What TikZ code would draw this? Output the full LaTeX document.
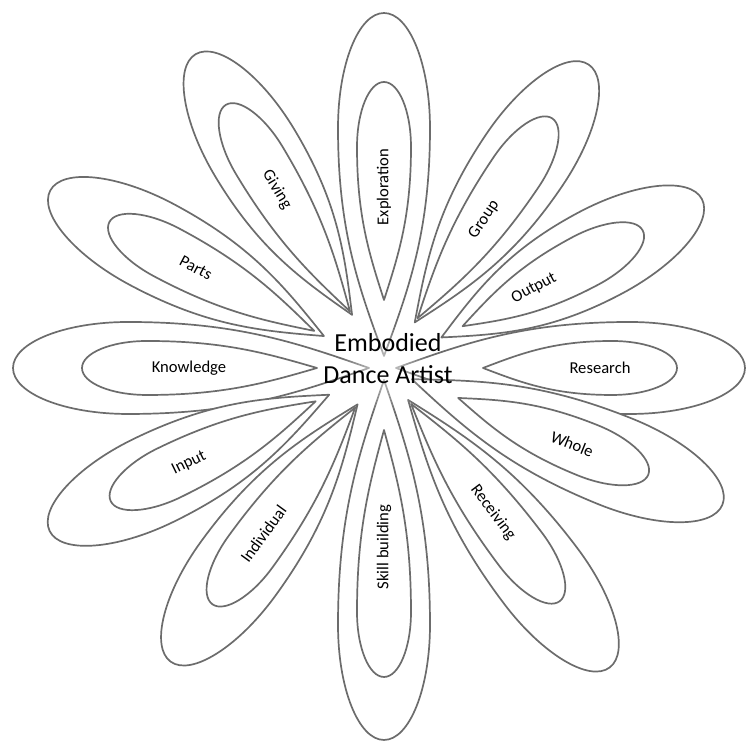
\documentclass[tikz,border=0pt]{standalone}
\usepackage{fontspec}
\setmainfont{Carlito}
\usepackage{tikz}
\usetikzlibrary{calc,fadings}

\definecolor{petalgray}{RGB}{108,108,108}
\tikzfading[name=hubfade, inner color=transparent!0, outer color=transparent!100]

% petal half-widths and end radii (px)
\newcommand{\outw}{46}
\newcommand{\outr}{115}
\newcommand{\inw}{27}
\newcommand{\inr}{65}

% #1 angle, #2/#3 outer tip/far end, #4/#5 inner tip/far end,
% #6 label distance, #7 node name, #8 label
\newcommand{\petal}[8]{%
  \begin{scope}[shift={(ctr)}, rotate=#1]
    \pgfmathsetmacro{\pom}{#3-\outr}
    \pgfmathsetmacro{\poa}{#2+0.3*(\pom-#2)}
    \pgfmathsetmacro{\pob}{#2+0.55*(\pom-#2)}
    \pgfmathsetmacro{\pim}{#5-\inr}
    \pgfmathsetmacro{\pia}{#4+0.3*(\pim-#4)}
    \pgfmathsetmacro{\pib}{#4+0.55*(\pim-#4)}
    \draw[petal] (#2,0) .. controls (\poa,{0.55*\outw}) and (\pob,\outw) .. (\pom,\outw)
      arc[start angle=90, end angle=-90, x radius=\outr, y radius=\outw]
      .. controls (\pob,-\outw) and (\poa,{-0.55*\outw}) .. (#2,0) -- cycle;
    \draw[petal] (#4,0) .. controls (\pia,{0.55*\inw}) and (\pib,\inw) .. (\pim,\inw)
      arc[start angle=90, end angle=-90, x radius=\inr, y radius=\inw]
      .. controls (\pib,-\inw) and (\pia,{-0.55*\inw}) .. (#4,0) -- cycle;
  \end{scope}
  \pgfmathsetmacro{\lrot}{(#1>90) ? #1-180 : ((#1<=-90) ? #1+180 : #1)}
  \node[lbl, rotate=\lrot] (#7) at ($(ctr)+(#1:#6)$) {#8};
}

\begin{document}
\begin{tikzpicture}[
  x=0.5pt, y=0.5pt,
  petal/.style={draw=petalgray, line width=0.85pt, fill=white, line join=round},
  lbl/.style={font=\fontsize{8.3}{10}\selectfont, inner sep=0pt},
  hub/.style={font=\fontsize{13}{16}\selectfont, align=center, inner sep=0pt}
]
\useasboundingbox (0,0) rectangle (746,742);
\coordinate (ctr) at (384,374);

% ---------- bottom layer ----------
\petal{90}{12}{355}{68}{286}{181}{exploration}{Exploration}
\petal{0}{12}{361}{99}{293}{216}{research}{Research}
\petal{-90}{12}{372}{62}{309}{179}{skill}{Skill building}
\petal{180}{15}{371}{67}{302}{195}{knowledge}{Knowledge}

% ---------- middle layer ----------
\petal{28}{65}{360}{89}{293}{170}{output}{Output}
\petal{-22}{30}{365}{80}{285}{203}{whole}{Whole}
\petal{-154}{61}{372}{76}{304}{217}{input}{Input}
\petal{152}{68}{378}{79}{311}{213}{parts}{Parts}

% ---------- top layer ----------
\petal{56}{55}{366}{60}{301}{179}{group}{Group}
\petal{-53}{40}{375}{45}{292}{181}{receiving}{Receiving}
\petal{-126}{45}{363}{49}{292}{205}{individual}{Individual}
\petal{121}{62}{366}{66}{307}{208}{giving}{Giving}

% ---------- centre ----------
\fill[white, path fading=hubfade, fill opacity=0.7] (ctr) circle (45);
\node[hub] (artist) at (388,383) {Embodied\\Dance Artist};

\end{tikzpicture}
\end{document}
